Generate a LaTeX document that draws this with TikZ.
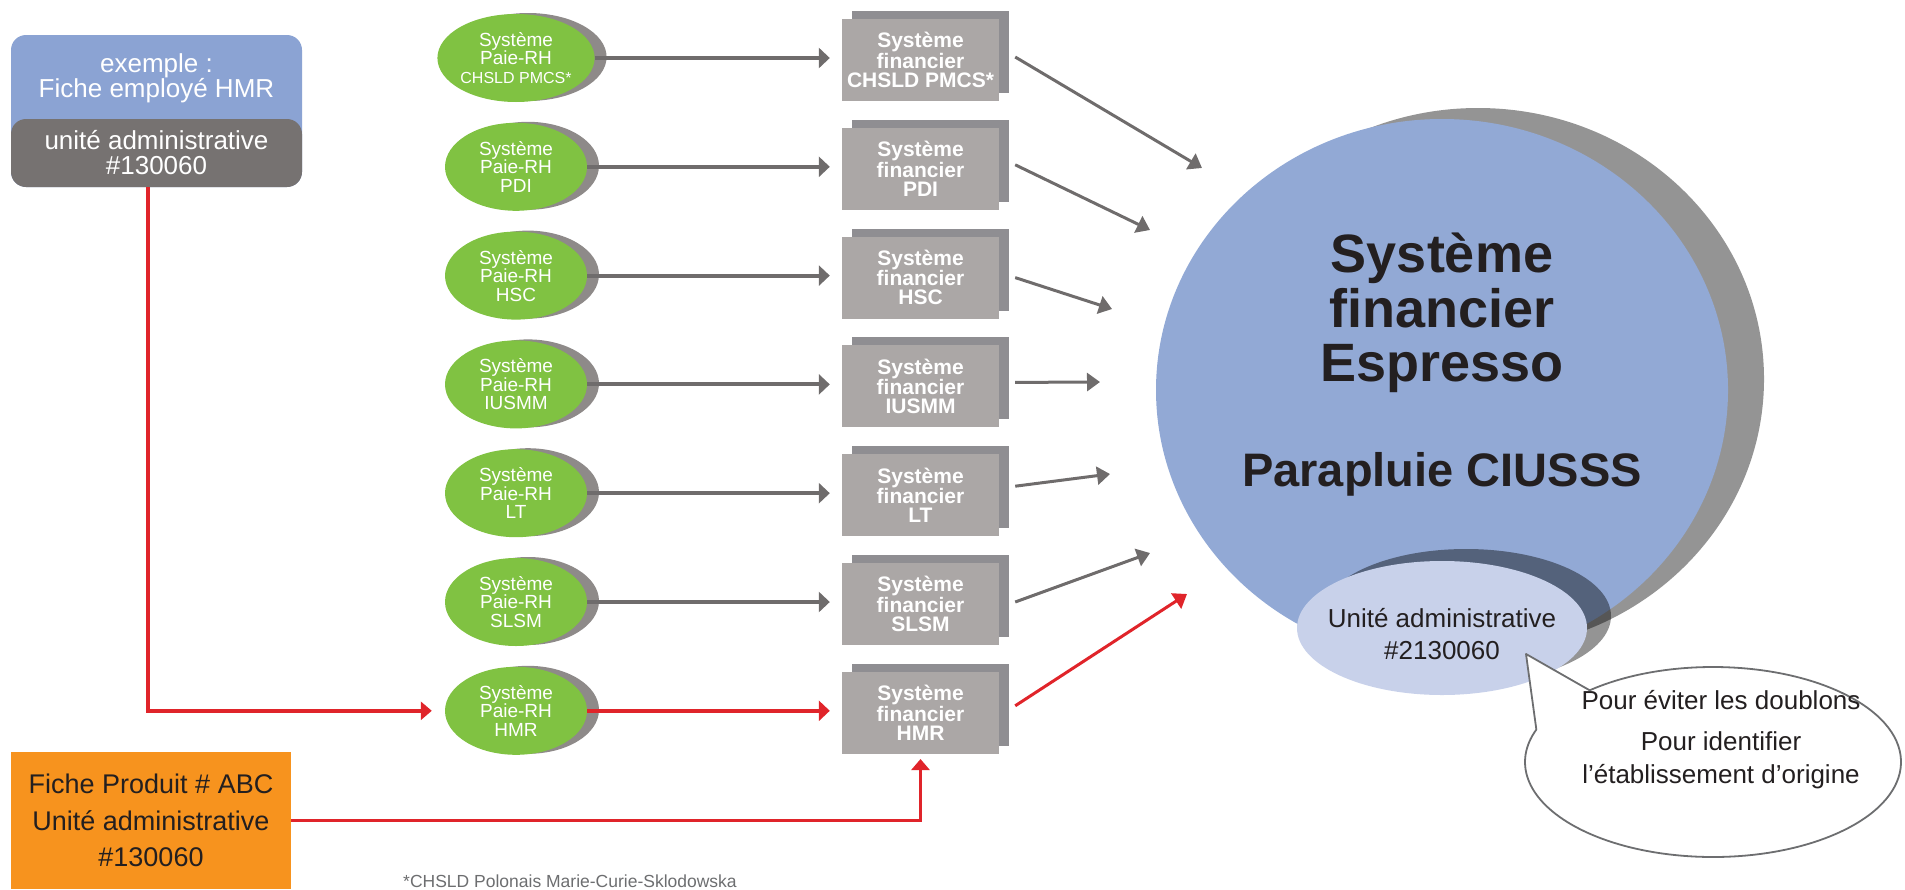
\documentclass[tikz,border=0pt]{standalone}
\usepackage{fontspec}
\setmainfont{Liberation Sans}
\usetikzlibrary{arrows.meta,shapes.geometric,shadows}

\definecolor{cardblue}{HTML}{8BA3D3}
\definecolor{cardgray}{HTML}{767271}
\definecolor{paygreen}{HTML}{80C242}
\definecolor{payshadow}{HTML}{8E8A89}
\definecolor{finfront}{HTML}{ABA7A6}
\definecolor{finback}{HTML}{8F8E92}
\definecolor{bigblue}{HTML}{92A9D5}
\definecolor{unitblue}{HTML}{C8D1EA}
\definecolor{arrowgray}{HTML}{6F6C6C}
\definecolor{flowred}{HTML}{E0242A}
\definecolor{prodorange}{HTML}{F7931E}
\definecolor{textdark}{HTML}{231F20}
\definecolor{notegray}{HTML}{6D6E70}

\tikzset{
  card/.style={rectangle, rounded corners=15pt, minimum width=291pt, inner sep=0pt},
  cardtext/.style={text=white, align=center, font=\fontsize{26}{25}\selectfont},
  product/.style={rectangle, fill=prodorange, minimum width=280pt, minimum height=137pt, inner sep=0pt,
    text=textdark, align=center, font=\fontsize{27}{36.5}\selectfont},
  payoval/.style={ellipse, fill=paygreen, minimum width=142pt, minimum height=88pt, inner sep=0pt,
    text=white, align=center, font=\fontsize{19}{18.5}\selectfont,
    general shadow={shadow xshift=12pt, shadow yshift=1pt, fill=payshadow}},
  finbox/.style={rectangle, fill=finfront, minimum width=157pt, minimum height=82pt, inner sep=0pt,
    text=white, align=center, font=\bfseries\fontsize{21}{19}\selectfont,
    general shadow={shadow xshift=10pt, shadow yshift=8pt, fill=finback}},
  flow/.style={color=arrowgray, line width=4pt, shorten >=12pt, -{Triangle[length=11pt, width=20pt]}},
  feed/.style={color=arrowgray, line width=3pt, -{Triangle[length=13pt, width=18pt]}},
  redflow/.style={color=flowred, line width=3.5pt, -{Triangle[length=11pt, width=18pt]}},
  espresso/.style={ellipse, fill=bigblue, minimum width=572pt, minimum height=542pt, inner sep=0pt,
    general shadow={shadow xshift=36pt, shadow yshift=11pt, fill=black, fill opacity=.42}},
  bigtext/.style={text=textdark, align=center, inner sep=0pt, font=\bfseries\fontsize{54}{54.5}\selectfont},
  unitoval/.style={ellipse, fill=unitblue, minimum width=290pt, minimum height=134pt, inner sep=0pt,
    general shadow={shadow xshift=24pt, shadow yshift=12pt, fill=black, fill opacity=.42}},
  unittext/.style={text=textdark, align=center, inner sep=0pt, font=\fontsize{26}{32}\selectfont},
  note/.style={draw=notegray, line width=1.8pt, fill=white, line join=round},
  notetext/.style={text=textdark, align=center, inner sep=0pt, font=\fontsize{26}{33}\selectfont},
  footnote/.style={text=notegray, inner sep=0pt, font=\fontsize{17.5}{20}\selectfont}
}

\begin{document}
\begin{tikzpicture}[x=1pt, y=-1pt]
  \useasboundingbox (0,0) rectangle (1905,889);

  % Example record
  \node[card, fill=cardblue, minimum height=152pt] (sample) at (156.5,111) {};
  \node[cardtext] (samplelabel) at (156.5,78) {exemple :\\Fiche employé HMR};
  \node[card, fill=cardgray, minimum height=68pt, cardtext] (unit) at (156.5,153) {unité administrative\\\#130060};

  % Product record
  \node[product] (prod) at (151,820.5) {Fiche Produit \# ABC\\Unité administrative\\\#130060};

  % Pay systems and financial systems
  \foreach \i/\site in {1/CHSLD PMCS*,2/PDI,3/HSC,4/IUSMM,5/LT,6/SLSM,7/HMR} {
    \node[payoval] (pay\i) at (516,{58+108.8*(\i-1)}) {Système\\Paie-RH\\\ifnum\i=1 \fontsize{16}{18}\selectfont\fi\site};
    \node[finbox] (fin\i) at (920.5,{60+108.8*(\i-1)}) {Système\\financier\\\site};
  }

  % Pay -> financial
  \foreach \i in {1,...,6}
    \draw[flow] (pay\i.east) -- (pay\i.east -| fin\i.west);
  \draw[flow, color=flowred] (pay7.east) -- (pay7.east -| fin7.west);

  % Target system
  \node[espresso] (espresso) at (1442,390) {};
  \node[bigtext] (title) at (1442,313) {Système\\financier\\Espresso};
  \node[bigtext, font=\bfseries\fontsize{47}{47}\selectfont, anchor=base] (umbrella) at (1442,486) {Parapluie CIUSSS};
  \node[unitoval] (code) at (1442,628) {};
  \node[unittext] (codelabel) at (1442,634) {Unité administrative\\\#2130060};

  % Financial -> Espresso
  \foreach \i/\tx/\ty/\dy in {1/1202/168/3,2/1150/230/4,3/1112/309/0,4/1100/382/4,5/1110/474/9,6/1150/553/2} {
    \coordinate (tip\i) at (\tx,\ty);
    \draw[feed] ([xshift=16pt,yshift=\dy pt]fin\i.east) -- (tip\i);
  }
  \coordinate (tip7) at (1187,594);
  \draw[feed, color=flowred] ([xshift=16pt,yshift=7pt]fin7.east) -- (tip7);

  % Red path of the HMR record
  \draw[redflow, shorten >=13pt] ([xshift=-8.5pt]unit.south) |- (pay7);
  \draw[redflow, shorten >=5pt] (prod.east) -| (fin7.south);

  % Callout
  \coordinate (tail) at (1526,654);
  \coordinate (bubble) at (1713,762);
  \draw[note] (tail) -- ([shift={(229:188 and 95)}]bubble)
    arc[start angle=229, end angle=560, x radius=188, y radius=95] -- cycle;
  \node[notetext] (reasons) at (1721,740) {Pour éviter les doublons\\[8pt]Pour identifier\\l’établissement d’origine};

  \node[footnote, anchor=base west] (fn) at (403,887) {*CHSLD Polonais Marie-Curie-Sklodowska};
\end{tikzpicture}
\end{document}
